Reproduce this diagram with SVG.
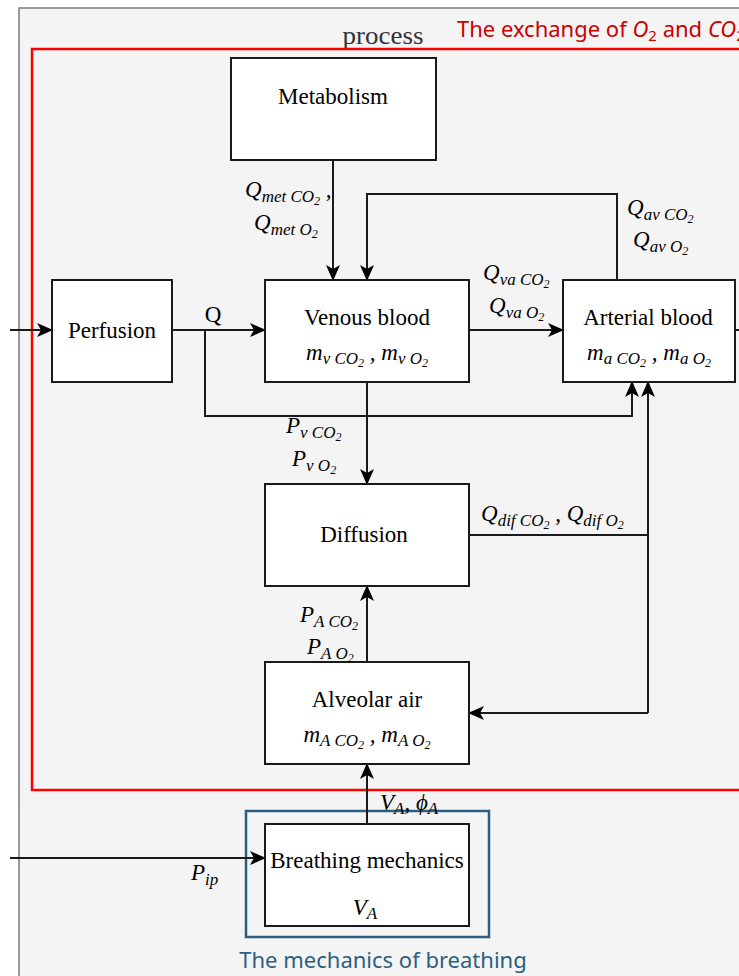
<svg xmlns="http://www.w3.org/2000/svg" width="739" height="976" viewBox="0 0 739 976">
<defs>
<style>
.box{fill:#ffffff;stroke:#1a1a1a;stroke-width:2}
.ln{fill:none;stroke:#1a1a1a;stroke-width:2}
.lbl{font-family:"Liberation Serif","Times New Roman",serif;font-size:23px;fill:#000}
.m{font-family:"Liberation Serif","Times New Roman",serif;font-style:italic;font-size:23px;fill:#000}
.s{font-size:17px}
.ss{font-size:12px}
</style>
<marker id="ah" markerWidth="16" markerHeight="14" viewBox="0 0 16 14" refX="15" refY="7" orient="auto" markerUnits="userSpaceOnUse">
<path d="M0,0 L16,7 L0,14 L4,7 z" fill="#000"/>
</marker>
</defs>
<rect x="0" y="0" width="739" height="976" fill="#ffffff"/>
<rect id="outer" x="19" y="8" width="740" height="990" fill="#f4f4f4" stroke="#7a7a7a" stroke-width="1.5"/>
<text x="383" y="44" text-anchor="middle" font-family="Liberation Serif, serif" font-size="25" fill="#333" textLength="81" lengthAdjust="spacingAndGlyphs">process</text>
<rect id="exchange" x="32" y="49" width="730" height="741" fill="none" stroke="#ff0000" stroke-width="2.5"/>
<text x="457" y="37" font-family="Noto Sans, sans-serif" font-size="22" fill="#cc0000">The exchange of <tspan font-style="italic">O</tspan><tspan font-size="15" dy="4">2</tspan><tspan dy="-4"> and </tspan><tspan font-style="italic">CO</tspan><tspan font-size="15" dy="4">2</tspan></text>
<rect id="mechframe" x="246" y="811" width="243" height="126" fill="none" stroke="#2b5f82" stroke-width="2.5"/>
<text x="383" y="968" text-anchor="middle" font-family="Noto Sans, sans-serif" font-size="22" fill="#2b5f82">The mechanics of breathing</text>

<g id="connectors">
<path class="ln" d="M10,330 L52,330" marker-end="url(#ah)"/>
<path class="ln" d="M172,330 L265,330" marker-end="url(#ah)"/>
<path class="ln" d="M205,330 L205,416 L632,416 L632,382" marker-end="url(#ah)"/>
<path class="ln" d="M333,160 L333,280" marker-end="url(#ah)"/>
<path class="ln" d="M617,280 L617,194 L367,194 L367,280" marker-end="url(#ah)"/>
<path class="ln" d="M469,330 L563,330" marker-end="url(#ah)"/>
<path class="ln" d="M735,330 L745,330"/>
<path class="ln" d="M367,382 L367,484" marker-end="url(#ah)"/>
<path class="ln" d="M469,535 L648,535"/>
<path class="ln" d="M648,713 L648,382" marker-end="url(#ah)"/>
<path class="ln" d="M648,713 L469,713" marker-end="url(#ah)"/>
<path class="ln" d="M367,662 L367,586" marker-end="url(#ah)"/>
<path class="ln" d="M367,824 L367,764" marker-end="url(#ah)"/>
<path class="ln" d="M10,858 L265,858" marker-end="url(#ah)"/>
</g>

<g id="metabolism">
<rect class="box" x="231" y="58" width="205" height="102"/>
<text class="lbl" x="333" y="104" text-anchor="middle">Metabolism</text>
</g>
<g id="perfusion">
<rect class="box" x="52" y="280" width="120" height="102"/>
<text class="lbl" x="112" y="338" text-anchor="middle">Perfusion</text>
</g>
<g id="venous">
<rect class="box" x="265" y="280" width="204" height="102"/>
<text class="lbl" x="367" y="325" text-anchor="middle">Venous blood</text>
<text class="m" x="367" y="360" text-anchor="middle">m<tspan class="s" dy="4">v CO</tspan><tspan class="ss" dy="3">2</tspan><tspan dy="-7"> , m</tspan><tspan class="s" dy="4">v O</tspan><tspan class="ss" dy="3">2</tspan></text>
</g>
<g id="arterial">
<rect class="box" x="563" y="280" width="172" height="102"/>
<text class="lbl" x="648" y="325" text-anchor="middle">Arterial blood</text>
<text class="m" x="649" y="360" text-anchor="middle">m<tspan class="s" dy="4">a CO</tspan><tspan class="ss" dy="3">2</tspan><tspan dy="-7"> , m</tspan><tspan class="s" dy="4">a O</tspan><tspan class="ss" dy="3">2</tspan></text>
</g>
<g id="diffusion">
<rect class="box" x="265" y="484" width="204" height="102"/>
<text class="lbl" x="364" y="542" text-anchor="middle">Diffusion</text>
</g>
<g id="alveolar">
<rect class="box" x="265" y="662" width="204" height="102"/>
<text class="lbl" x="367" y="707" text-anchor="middle">Alveolar air</text>
<text class="m" x="367" y="742" text-anchor="middle">m<tspan class="s" dy="4">A CO</tspan><tspan class="ss" dy="3">2</tspan><tspan dy="-7"> , m</tspan><tspan class="s" dy="4">A O</tspan><tspan class="ss" dy="3">2</tspan></text>
</g>
<g id="breathing">
<rect class="box" x="265" y="824" width="204" height="102"/>
<text class="lbl" x="367" y="868" text-anchor="middle">Breathing mechanics</text>
<text class="m" x="365" y="915" text-anchor="middle">V<tspan class="s" dy="4">A</tspan></text>
</g>

<g id="labels">
<text class="m" x="245" y="197">Q<tspan class="s" dy="5">met CO</tspan><tspan class="ss" dy="3">2</tspan><tspan dy="-8"> ,</tspan></text>
<text class="m" x="254" y="230">Q<tspan class="s" dy="5">met O</tspan><tspan class="ss" dy="3">2</tspan></text>
<text class="m" x="627" y="215">Q<tspan class="s" dy="5">av CO</tspan><tspan class="ss" dy="3">2</tspan></text>
<text class="m" x="633" y="247">Q<tspan class="s" dy="5">av O</tspan><tspan class="ss" dy="3">2</tspan></text>
<text class="m" x="483" y="280">Q<tspan class="s" dy="5">va CO</tspan><tspan class="ss" dy="3">2</tspan></text>
<text class="m" x="489" y="313">Q<tspan class="s" dy="5">va O</tspan><tspan class="ss" dy="3">2</tspan></text>
<text class="lbl" x="213" y="322" text-anchor="middle">Q</text>
<text class="m" x="286" y="433">P<tspan class="s" dy="5">v CO</tspan><tspan class="ss" dy="3">2</tspan></text>
<text class="m" x="292" y="466">P<tspan class="s" dy="5">v O</tspan><tspan class="ss" dy="3">2</tspan></text>
<text class="m" x="481" y="521">Q<tspan class="s" dy="5">dif CO</tspan><tspan class="ss" dy="3">2</tspan><tspan dy="-8"> , Q</tspan><tspan class="s" dy="5">dif O</tspan><tspan class="ss" dy="3">2</tspan></text>
<text class="m" x="300" y="622">P<tspan class="s" dy="5">A CO</tspan><tspan class="ss" dy="3">2</tspan></text>
<text class="m" x="307" y="654">P<tspan class="s" dy="5">A O</tspan><tspan class="ss" dy="3">2</tspan></text>
<text class="m" x="380" y="810">V<tspan class="s" dy="4">A</tspan><tspan dy="-4">, ϕ</tspan><tspan class="s" dy="4">A</tspan></text>
<text class="m" x="191" y="880">P<tspan class="s" dy="5">ip</tspan></text>
</g>
</svg>
